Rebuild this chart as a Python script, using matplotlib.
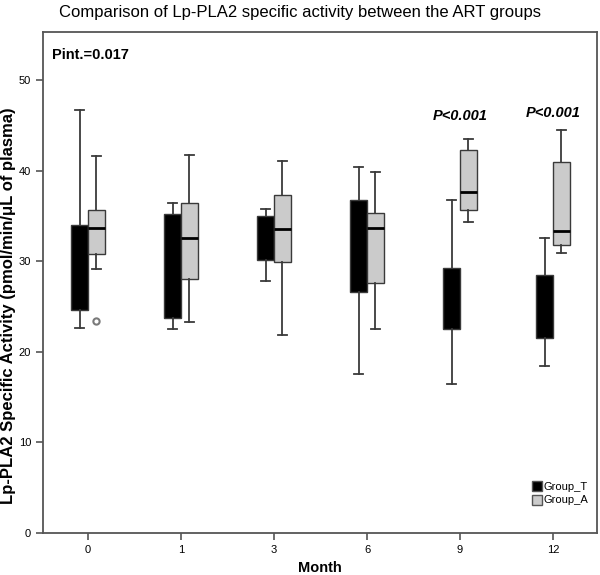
import matplotlib
matplotlib.use("Agg")
import matplotlib.pyplot as plt
from matplotlib.patches import Patch

plt.rcParams['font.family'] = ['Liberation Sans', 'DejaVu Sans']

months = ['0', '1', '3', '6', '9', '12']
# Group_T stats
t_whislo = [22.6, 22.5, 27.8, 17.5, 16.4, 18.4]
t_q1     = [24.6, 23.7, 30.1, 26.6, 22.5, 21.5]
t_med    = [28.0, 30.0, 33.0, 32.0, 25.0, 24.0]
t_q3     = [34.0, 35.2, 35.0, 36.8, 29.3, 28.5]
t_whishi = [46.7, 36.4, 35.8, 40.4, 36.8, 32.6]
# Group_A stats
a_whislo = [29.1, 23.3, 21.9, 22.5, 34.3, 30.9]
a_q1     = [30.8, 28.0, 29.9, 27.6, 35.7, 31.8]
a_med    = [33.7, 32.6, 33.6, 33.7, 37.6, 33.3]
a_q3     = [35.7, 36.4, 37.3, 35.3, 42.3, 40.9]
a_whishi = [41.6, 41.7, 41.1, 39.9, 43.5, 44.5]
a_fliers = [[23.4], [], [], [], [], []]

p_labels = ['', '', '', '', 'P<0.001', 'P<0.001']
p_ypos = [None, None, None, None, 46.0, 46.4]

fig = plt.figure(figsize=(6.0, 5.75), dpi=100)
ax = fig.add_axes([43/600, 1 - 533/575, (597-43)/600, (533-32)/575])

def stats(lo, q1, med, q3, hi, fl):
    return [dict(whislo=lo[i], q1=q1[i], med=med[i], q3=q3[i], whishi=hi[i],
                 fliers=fl[i]) for i in range(len(lo))]

n = len(months)
off = 0.09
w = 0.18
edge = '#3a3a3a'
st_t = stats(t_whislo, t_q1, t_med, t_q3, t_whishi, [[] for _ in range(n)])
st_a = stats(a_whislo, a_q1, a_med, a_q3, a_whishi, a_fliers)

common = dict(widths=w, patch_artist=True, capwidths=0.09, manage_ticks=False,
              whiskerprops=dict(color=edge, lw=1.3),
              capprops=dict(color=edge, lw=1.3))
ax.bxp(st_t, positions=[i - off for i in range(n)],
       boxprops=dict(facecolor='black', edgecolor=edge, lw=1.0),
       medianprops=dict(color='black', lw=0.8, visible=False),
       flierprops=dict(marker='o', markersize=4, markerfacecolor='white', markeredgecolor='#777777'),
       **common)
ax.bxp(st_a, positions=[i + off for i in range(n)],
       boxprops=dict(facecolor='#cbcbcb', edgecolor=edge, lw=1.0),
       medianprops=dict(color='black', lw=2),
       flierprops=dict(marker='o', markersize=4.5, markerfacecolor='white',
                       markeredgecolor='#7a7a7a', markeredgewidth=1.5),
       **common)

for i, (lab, yp) in enumerate(zip(p_labels, p_ypos)):
    if lab:
        ax.text(i, yp, lab, ha='center', va='center', fontsize=10.5,
                fontweight='bold', fontstyle='italic')

ax.set_xlim(-0.484, 5.473)
ax.set_ylim(0, 55.3)
ax.set_xticks(range(n))
ax.set_xticklabels(months)
ax.set_yticks([0, 10, 20, 30, 40, 50])
ax.tick_params(labelsize=8, length=5, color='#555555', width=1.2)
for s in ax.spines.values():
    s.set_color('#555555')
    s.set_linewidth(1.3)

ax.text(0.017, 0.954, 'Pint.=0.017', transform=ax.transAxes, fontsize=10.5,
        fontweight='bold', ha='left', va='center')

fig.text(0.5, 1 - 12/575, 'Comparison of Lp-PLA2 specific activity between the ART groups',
         ha='center', va='center', fontsize=12)
ax.set_xlabel('Month', fontsize=10.5, fontweight='bold')
ax.xaxis.set_label_coords(0.5, -(568-533)/501)
ax.xaxis.label.set_va('center')
ax.set_ylabel('Lp-PLA2 Specific Activity (pmol/min/\u03bcL of plasma)', fontsize=12,
              fontweight='bold')
ax.yaxis.set_label_coords(-(43-9)/554, (533-306)/501)
ax.yaxis.label.set_va('center')

handles = [Patch(facecolor='black', edgecolor='#555555', label='Group_T'),
           Patch(facecolor='#cbcbcb', edgecolor='#555555', label='Group_A')]
ax.legend(handles=handles, loc='lower right', bbox_to_anchor=(0.985, 0.055),
          frameon=False, fontsize=8, handlelength=0.9, handleheight=1.0,
          handletextpad=0.2, labelspacing=0.25, borderpad=0.0, borderaxespad=0.0)

fig.savefig('out.png', dpi=100)
